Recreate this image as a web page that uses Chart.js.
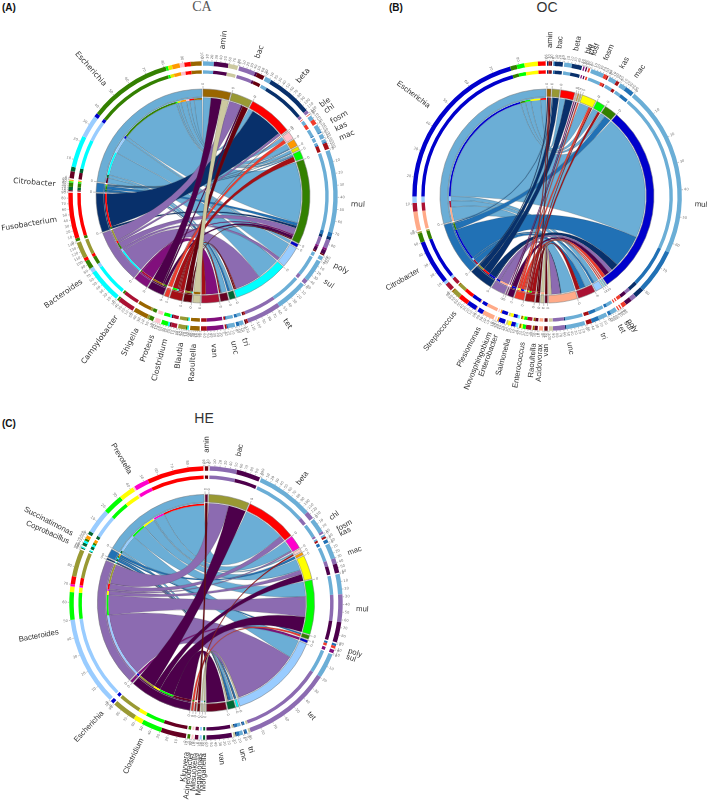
<!DOCTYPE html>
<html>
<head>
<meta charset="utf-8">
<script src="https://cdn.jsdelivr.net/npm/chart.js@4"></script>
<style>
html,body{margin:0;padding:0;background:#fff;width:709px;height:801px;overflow:hidden}
canvas{position:absolute}
.t{position:absolute;white-space:nowrap;line-height:1;transform:translate(-50%,-50%);font-size:14px;color:#333}
.p{position:absolute;white-space:nowrap;line-height:1;font:bold 10px "Liberation Sans",sans-serif;color:#111}
</style>
</head>
<body>
<div class="p" style="left:2px;top:2px">(A)</div>
<div class="p" style="left:389px;top:2px">(B)</div>
<div class="p" style="left:2px;top:418px">(C)</div>
<div class="t" style="left:202px;top:7px;color:#555;font-family:'Liberation Serif',serif">CA</div>
<div class="t" style="left:547px;top:7px;font-family:'Liberation Sans',sans-serif">OC</div>
<div class="t" style="left:204px;top:418px;font-family:'Liberation Sans',sans-serif">HE</div>
<canvas id="chartA" width="420" height="420"></canvas>
<canvas id="chartB" width="420" height="420"></canvas>
<canvas id="chartC" width="420" height="420"></canvas>
<script>
// shared link colours, picked off the ribbons
const linkPalette = ['#6baed6','#2171b5','#08306b','#8c6bb1','#810f7c','#4d004b','#ef3b2c','#a50f15','#67000d','#ccc9a0'];

// ---- CA
const CA_genes = ['amin','bac','beta','ble','chl','fosm','kas','mac','mul','poly','sul','tet','tri','unc','van'];
const CA_geneColors = ['#996600','#999933','#ff0000','#ffd0d0','#ffc0cb','#ff9900','#e6e600','#00ff00','#338000','#0000cc','#99ccff','#00ffff','#006633','#660022','#aa1133'];
const CA_geneTicks = [8,7,12,1,3,3,2,4,9,2,5,12,3,3,7];
const CA_genera = ['Escherichia','Citrobacter','Fusobacterium','Bacteroides','Campylobacter','Shigella','Proteus','Clostridium','Blautia','Raoultella'];
const CA_genusTicks = [10,6,9,14,5,5,3,6,6,5];
const CA_links = [
  ['amin','Escherichia',4.9],['amin','Shigella',6.6],['amin','Raoultella',4.3],
  ['bac','Bacteroides',7.5],['bac','Shigella',1],['bac','Blautia',3.5],
  ['beta','Escherichia',2.9],['beta','Fusobacterium',20.8],['beta','Bacteroides',1.5],
  ['ble','Proteus',0.3],
  ['chl','Escherichia',2.1],['chl','Proteus',2.3],
  ['fosm','Escherichia',3.5],['fosm','Citrobacter',0.5],
  ['kas','Escherichia',1.8],['kas','Citrobacter',0.2],
  ['mac','Escherichia',1.1],['mac','Citrobacter',0.6],['mac','Clostridium',3],
  ['mul','Escherichia',37.5],['mul','Citrobacter',2],['mul','Fusobacterium',1.4],['mul','Bacteroides',4],['mul','Campylobacter',0.9],['mul','Shigella',2],['mul','Blautia',0.6],
  ['poly','Escherichia',1.8],
  ['sul','Escherichia',10.2],['sul','Bacteroides',2],
  ['tet','Escherichia',14.5],['tet','Bacteroides',15.7],['tet','Blautia',0.7],['tet','Clostridium',0.8],
  ['tri','Escherichia',2],['tri','Citrobacter',1.4],
  ['unc','Escherichia',3.2],['unc','Citrobacter',0.6],['unc','Clostridium',0.8],
  ['van','Campylobacter',7.6],['van','Clostridium',2.6]
];

// ---- OC
const OC_genes = ['amin','bac','beta','ble','chl','fosf','fosm','kas','mac','mul','poly','sul','tet','tri','unc','van'];
const OC_geneColors = ['#996600','#999933','#ff0000','#ffd0d0','#ff9900','#cccc66','#ffff00','#00ff00','#338000','#0000cc','#66ccff','#66ffff','#99ccff','#aa1133','#ffaa88','#660022'];
const OC_geneTicks = [2,3,5,1,1,1,6,4,5,9,1,1,4,5,10,2];
const OC_genera = ['Escherichia','Citrobacter','Streptococcus','Plesiomonas','Novosphingobium','Enterobacter','Salmonella','Enterococcus','Raoultella','Acidovorax'];
const OC_genusTicks = [9,6,9,5,1,4,4,4,2,1];
const OC_links = [
  ['amin','Streptococcus',0.7],['amin','Enterococcus',0.8],['amin','Raoultella',0.8],
  ['bac','Citrobacter',0.7],['bac','Streptococcus',3.6],
  ['beta','Escherichia',3.5],['beta','Streptococcus',4.6],
  ['ble','Novosphingobium',0.6],
  ['chl','Enterobacter',0.6],
  ['fosf','Salmonella',0.8],
  ['fosm','Escherichia',6.1],['fosm','Salmonella',1.5],['fosm','Enterococcus',0.7],
  ['kas','Escherichia',3.5],['kas','Enterococcus',1.5],
  ['mac','Escherichia',3],['mac','Citrobacter',4.2],
  ['mul','Escherichia',78],['mul','Citrobacter',20.5],['mul','Streptococcus',4.5],['mul','Plesiomonas',2.5],['mul','Enterobacter',3],['mul','Salmonella',2],
  ['poly','Salmonella',0.6],
  ['sul','Salmonella',0.6],
  ['tet','Escherichia',2.9],['tet','Citrobacter',1.4],
  ['tri','Escherichia',4],['tri','Citrobacter',3.5],['tri','Enterococcus',2.5],
  ['unc','Escherichia',8.7],['unc','Streptococcus',0.5],['unc','Plesiomonas',5.5],['unc','Acidovorax',1.8],
  ['van','Raoultella',1.5]
];

// ---- HE
const HE_genes = ['amin','bac','beta','chl','fosm','kas','mac','mul','poly','sul','tet','tri','unc','van'];
const HE_geneColors = ['#660033','#999933','#ff0000','#ff00cc','#ffcccc','#ff9900','#ffff00','#00ff00','#338000','#0000cc','#99ccff','#00ffff','#006633','#660022'];
const HE_geneTicks = [1,10,13,3,1,1,6,9,1,1,9,1,2,6];
const HE_genera = ['Prevotella','Succinatimonas','Coprobacillus','Bacteroides','Escherichia','Clostridium','Kluyvera','Acinetobacter','Mitsuokella','Megamonas','Morganella'];
const HE_genusTicks = [9,4,2,9,1,9,1,1,1,1,1];
const HE_links = [
  ['amin','Mitsuokella',1.5],
  ['bac','Bacteroides',12],['bac','Clostridium',10.5],
  ['beta','Prevotella',25],['beta','Bacteroides',3.5],
  ['chl','Prevotella',6.5],['chl','Bacteroides',1],
  ['fosm','Prevotella',0.8],['fosm','Acinetobacter',0.9],
  ['kas','Succinatimonas',1.5],
  ['mac','Prevotella',6.8],['mac','Bacteroides',2.5],['mac','Clostridium',4],
  ['mul','Prevotella',8.9],['mul','Bacteroides',12.2],['mul','Clostridium',9],
  ['poly','Succinatimonas',1],['poly','Kluyvera',1.2],
  ['sul','Escherichia',1.5],
  ['tet','Prevotella',11],['tet','Bacteroides',39.3],['tet','Megamonas',0.9],
  ['tri','Succinatimonas',0.9],['tri','Coprobacillus',0.4],
  ['unc','Prevotella',1.5],['unc','Succinatimonas',1.4],['unc','Coprobacillus',0.5],['unc','Morganella',0.9],
  ['van','Clostridium',11.2]
];

const GAP = 0.6;
const RING_WEIGHTS = [4.4,4.6,3.4,15.3,7.7,1.2,1.8];
const OUTER_R = 134.7, INNER_R = 96.3, GENE_R = 98.4;
const tickFont = '3.6px "DejaVu Sans",sans-serif';

function radialText(ctx,txt,x,y,ang,r){
  // right half reads outward, left half reads towards the centre
  const top = ((ang+Math.PI/2)%(2*Math.PI)+2*Math.PI)%(2*Math.PI);
  ctx.save();
  ctx.translate(x,y);
  if(top<=Math.PI){ ctx.rotate(ang); ctx.textAlign='left'; ctx.fillText(txt,r,0); }
  else{ ctx.rotate(ang+Math.PI); ctx.textAlign='right'; ctx.fillText(txt,-r,0); }
  ctx.restore();
}

function buildPanel(id,cx,cy,scale,rotation,labelFont,genes,geneColors,geneTicks,genera,genusTicks,links){
  const byGene = (l)=>genes.indexOf(l[0]), byGenus = (l)=>genera.indexOf(l[1]);
  const genusColor = (g)=>linkPalette[Math.min(genera.indexOf(g),linkPalette.length-1)];
  const rev = [...genera].reverse();
  const rev2 = [...genusTicks].reverse();
  const ring = [], colors = [], main = [], mainColors = [], mid = [];
  const slot = new Map(), sectors = [];
  const sum = (arr)=>arr.reduce((a,l)=>a+l[2],0);

  genes.forEach((g,i)=>{
    const own = links.filter(l=>l[0]===g).sort((a,b)=>byGenus(a)-byGenus(b));
    own.forEach(l=>{ slot.set(l,{a:ring.length}); ring.push(l[2]); colors.push(genusColor(l[1])); });
    ring.push(GAP); colors.push('transparent');
    main.push(sum(own),GAP); mainColors.push(geneColors[i],'transparent'); mid.push('transparent','transparent');
    sectors.push({name:g,ticks:geneTicks[i]});
  });
  // thin inner ring only exists on the genus side
  const split = ring.length;
  rev.forEach((g,i)=>{
    const own = links.filter(l=>l[1]===g).sort((a,b)=>byGene(b)-byGene(a));
    own.forEach(l=>{ slot.get(l).b = ring.length; ring.push(l[2]); colors.push(geneColors[byGene(l)]); });
    ring.push(GAP); colors.push('transparent');
    main.push(sum(own),GAP); mainColors.push(genusColor(g),'transparent'); mid.push(genusColor(g),'transparent');
    sectors.push({name:g,ticks:rev2[i]});
  });
  const thinColors = colors.map((c,i)=> i<split ? 'transparent' : c);

  const plainRing = (w)=>({data:ring,backgroundColor:'transparent',weight:w,borderWidth:0});
  const chordPlugin = {
    id:'chords',
    beforeDatasetsDraw(chart){
      const ctx = chart.ctx, arcs = chart.getDatasetMeta(0).data;
      const x = arcs[0].x, y = arcs[0].y;
      ctx.save();
      [...links].sort((p,q)=>byGenus(p)-byGenus(q)||byGene(p)-byGene(q)).forEach(l=>{
        const s = slot.get(l), A = arcs[s.a], B = arcs[s.b];
        const rg = GENE_R*scale, rs = INNER_R*scale;
        ctx.beginPath();
        ctx.arc(x,y,rg,A.startAngle,A.endAngle);
        ctx.quadraticCurveTo(x,y,x+rs*Math.cos(B.startAngle),y+rs*Math.sin(B.startAngle));
        ctx.arc(x,y,rs,B.startAngle,B.endAngle);
        ctx.quadraticCurveTo(x,y,x+rg*Math.cos(A.startAngle),y+rg*Math.sin(A.startAngle));
        ctx.closePath();
        ctx.fillStyle = genusColor(l[1]);
        ctx.fill();
        ctx.lineWidth = 0.4;
        ctx.strokeStyle = 'rgba(70,70,70,0.55)';
        ctx.stroke();
      });
      ctx.restore();
    },
    afterDatasetsDraw(chart){
      const ctx = chart.ctx, arcs = chart.getDatasetMeta(4).data;
      const x = arcs[0].x, y = arcs[0].y;
      const R = OUTER_R*scale, Rm = 107*scale;
      ctx.save();
      ctx.textBaseline = 'middle';
      sectors.forEach((sec,i)=>{
        const el = arcs[i*2], a0 = el.startAngle, a1 = el.endAngle;
        // start tick on the main ring
        ctx.strokeStyle = '#888'; ctx.lineWidth = 0.5;
        ctx.beginPath();
        ctx.moveTo(x+Rm*Math.cos(a0),y+Rm*Math.sin(a0));
        ctx.lineTo(x+(Rm+3)*Math.cos(a0),y+(Rm+3)*Math.sin(a0));
        ctx.stroke();
        ctx.fillStyle = '#777'; ctx.font = tickFont;
        radialText(ctx,'0',x,y,a0,Rm+4);
        // scale ticks on the outer ring
        for(let k=0;k<=sec.ticks;k++){
          const a = a0+(a1-a0)*k/Math.max(sec.ticks,1);
          ctx.beginPath();
          ctx.moveTo(x+R*Math.cos(a),y+R*Math.sin(a));
          ctx.lineTo(x+(R+1.5)*Math.cos(a),y+(R+1.5)*Math.sin(a));
          ctx.stroke();
          radialText(ctx,String(k*10),x,y,a,R+2.5);
        }
        ctx.fillStyle = '#333'; ctx.font = labelFont;
        radialText(ctx,sec.name,x,y,(a0+a1)/2,148*scale);
      });
      ctx.restore();
    }
  };

  const el = document.getElementById(id);
  el.style.left = (cx-210)+'px';
  el.style.top = (cy-210)+'px';
  el.style.width = el.style.height = '420px';
  return new Chart(el,{
    type:'doughnut',
    data:{datasets:[
      {data:ring,backgroundColor:colors,weight:RING_WEIGHTS[0],borderWidth:0},
      plainRing(RING_WEIGHTS[1]),
      {data:ring,backgroundColor:colors,weight:RING_WEIGHTS[2],borderWidth:0},
      plainRing(RING_WEIGHTS[3]),
      {data:main,backgroundColor:mainColors,weight:RING_WEIGHTS[4],borderWidth:mainColors.map(c=>c==='transparent'?0:0.5),borderColor:'#777'},
      {data:main,backgroundColor:mid,weight:RING_WEIGHTS[5],borderWidth:0},
      {data:ring,backgroundColor:thinColors,weight:RING_WEIGHTS[6],borderWidth:0}
    ]},
    options:{
      responsive:false,animation:false,rotation,
      radius:OUTER_R*scale,cutout:(INNER_R/OUTER_R*100)+'%',
      layout:{padding:0},
      plugins:{legend:{display:false},tooltip:{enabled:false}},
      events:[]
    },
    plugins:[chordPlugin]
  });
}

const sansFont = '7.7px "Liberation Sans",sans-serif';
buildPanel('chartA',203,196,1,0,'7.6px "DejaVu Sans",sans-serif',CA_genes,CA_geneColors,CA_geneTicks,CA_genera,CA_genusTicks,CA_links);
buildPanel('chartB',547,196,1,0,sansFont,OC_genes,OC_geneColors,OC_geneTicks,OC_genera,OC_genusTicks,OC_links);
buildPanel('chartC',206,603,1.015,-0.5,sansFont,HE_genes,HE_geneColors,HE_geneTicks,HE_genera,HE_genusTicks,HE_links);
</script>
</body>
</html>
